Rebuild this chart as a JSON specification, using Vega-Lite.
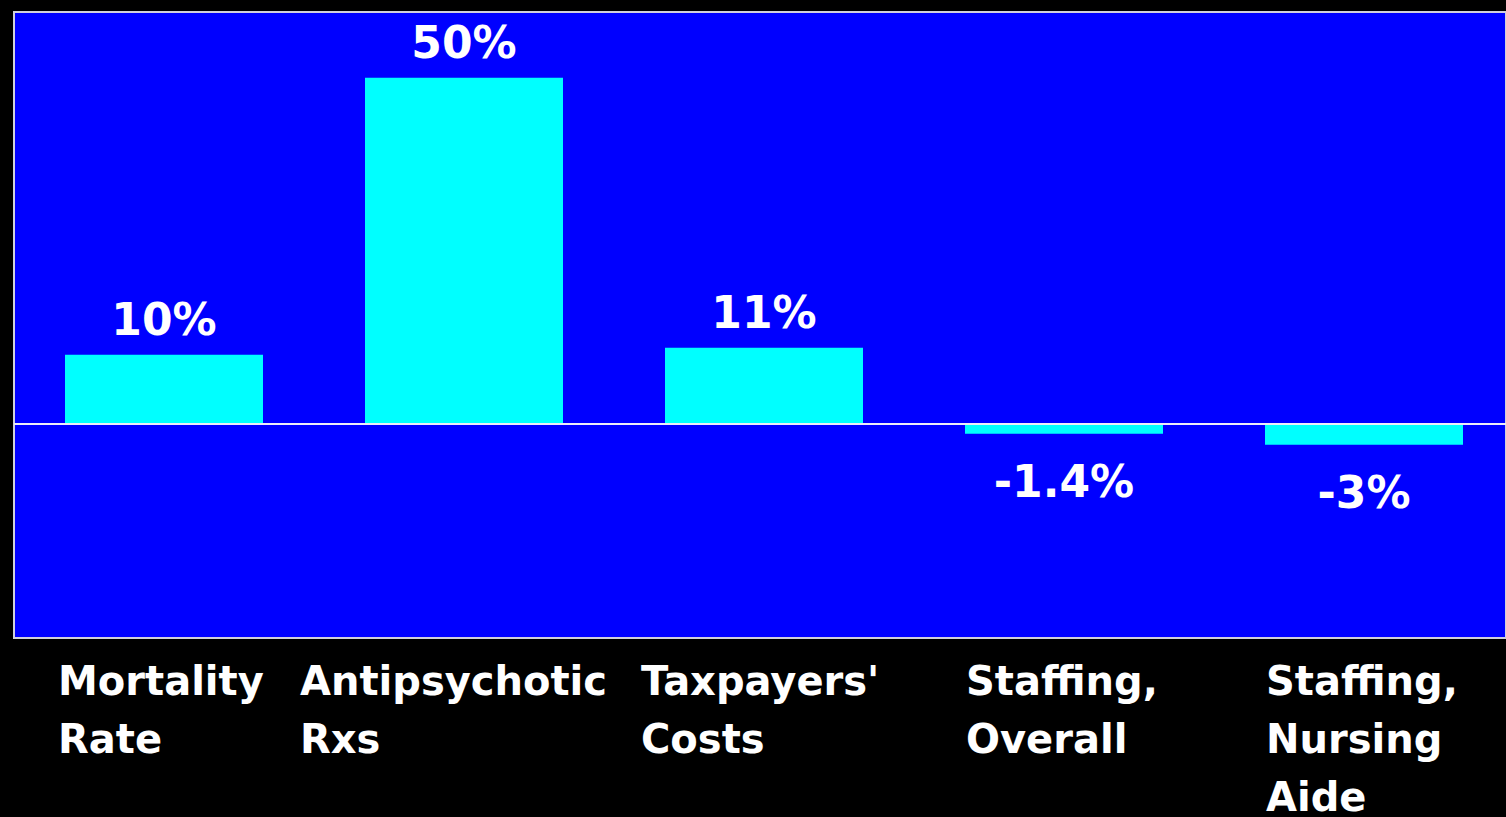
{
  "$schema": "https://vega.github.io/schema/vega-lite/v6.json",
  "width": 1492,
  "height": 626,
  "padding": {"left": 14, "top": 12, "right": 0, "bottom": 179},
  "autosize": {"type": "none"},
  "background": "#000000",
  "view": {"fill": "#0000FF", "stroke": "#d0d0dc", "strokeWidth": 2},
  "data": {
    "values": [
      {"category": "Mortality Rate", "value": 10, "label": "10%"},
      {"category": "Antipsychotic Rxs", "value": 50, "label": "50%"},
      {"category": "Taxpayers' Costs", "value": 11, "label": "11%"},
      {"category": "Staffing, Overall", "value": -1.4, "label": "-1.4%"},
      {"category": "Staffing, Nursing Aide", "value": -3, "label": "-3%"}
    ]
  },
  "layer": [
    {
      "mark": {"type": "bar", "color": "#00FFFF", "width": {"band": 0.66}},
      "encoding": {
        "x": {
          "field": "category",
          "type": "nominal",
          "sort": null,
          "scale": {"range": [0, 1500], "paddingInner": 0, "paddingOuter": 0},
          "axis": {
            "title": null,
            "domain": false,
            "ticks": false,
            "grid": false,
            "labelAngle": 0,
            "labelAlign": "left",
            "labelBaseline": "top",
            "labelPadding": 24,
            "labelFont": "DejaVu Sans",
            "labelFontWeight": "bold",
            "labelFontSize": 40,
            "labelColor": "#FFFFFF",
            "labelLineHeight": 58,
            "labelLimit": 0,
            "labelOverlap": false,
            "labelFlush": false,
            "labelExpr": "split(datum.value, ' ')",
            "labelOffset": {
              "condition": [
                {"test": "datum.value === 'Mortality Rate'", "value": -106},
                {"test": "datum.value === 'Antipsychotic Rxs'", "value": -164},
                {"test": "datum.value === \"Taxpayers' Costs\"", "value": -123}
              ],
              "value": -98
            }
          }
        },
        "y": {
          "field": "value",
          "type": "quantitative",
          "scale": {"domain": [-30.9, 59.5], "nice": false, "zero": false},
          "axis": null
        }
      }
    },
    {
      "data": {"values": [{"zero": 0}]},
      "mark": {"type": "rule", "color": "#ECECF8", "strokeWidth": 2},
      "encoding": {"y": {"field": "zero", "type": "quantitative"}}
    },
    {
      "transform": [{"filter": "datum.value >= 0"}],
      "mark": {"type": "text", "color": "#FFFFFF", "font": "DejaVu Sans", "fontWeight": "bold", "fontSize": 44, "baseline": "alphabetic", "align": "center", "dy": -20},
      "encoding": {
        "x": {"field": "category", "type": "nominal", "sort": null},
        "y": {"field": "value", "type": "quantitative"},
        "text": {"field": "label"}
      }
    },
    {
      "transform": [{"filter": "datum.value < 0"}],
      "mark": {"type": "text", "color": "#FFFFFF", "font": "DejaVu Sans", "fontWeight": "bold", "fontSize": 44, "baseline": "alphabetic", "align": "center", "dy": 63},
      "encoding": {
        "x": {"field": "category", "type": "nominal", "sort": null},
        "y": {"field": "value", "type": "quantitative"},
        "text": {"field": "label"}
      }
    }
  ]
}
